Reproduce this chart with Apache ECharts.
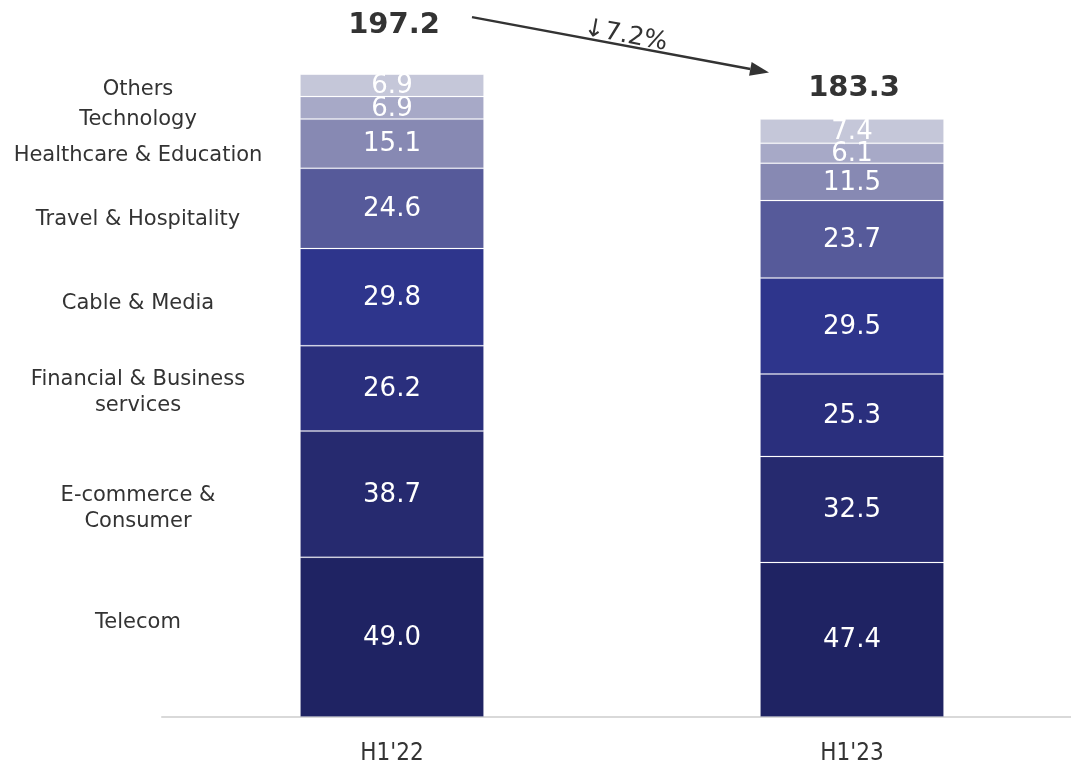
<!DOCTYPE html>
<html>
<head>
<meta charset="utf-8">
<script src="https://cdn.jsdelivr.net/npm/echarts@6/dist/echarts.min.js"></script>
<style>
  html, body { margin: 0; padding: 0; background: #fff; }
  #chart { width: 1071px; height: 767px; }
</style>
</head>
<body>
<div id="chart"></div>
<script>
// Periods on the x axis
const periods = ["H1'22", "H1'23"];

// Segment names, bottom to top of the stack
const segmentNames = [
  'Telecom',
  'E-commerce &\nConsumer',
  'Financial & Business\nservices',
  'Cable & Media',
  'Travel & Hospitality',
  'Healthcare & Education',
  'Technology',
  'Others'
];

// Segment values per period
const telecom      = [49.0, 47.4];
const ecommerce    = [38.7, 32.5];
const financial    = [26.2, 25.3];
const cableMedia   = [29.8, 29.5];
const travel       = [24.6, 23.7];
const healthcare   = [15.1, 11.5];
const technology   = [6.9, 6.1];
const others       = [6.9, 7.4];

// Period totals and change annotation
const totals = [197.2, 183.3];
const changeText = '\u21937.2%';

const segmentValues = [telecom, ecommerce, financial, cableMedia, travel, healthcare, technology, others];
const segmentColors = ['#1f2363', '#262a6f', '#2a2f7d', '#2e358c', '#565a9a', '#8789b3', '#a7a9c7', '#c5c7d9'];

// Vertical nudge (px) of each left-hand segment name from the middle of its first-bar segment
const nameNudge = [-15, 14, 4, 6, 11, 12, 12, 4];

const FONT = "'DejaVu Sans', Verdana, sans-serif";
const AXIS_FONT = "'Liberation Sans Narrow', 'DejaVu Sans Condensed', sans-serif";

const chart = echarts.init(document.getElementById('chart'), null, { renderer: 'canvas' });

const series = segmentNames.map((name, i) => ({
  name: name,
  type: 'bar',
  stack: 'total',
  barWidth: '40%',
  data: segmentValues[i],
  itemStyle: {
    color: segmentColors[i],
    borderColor: 'rgba(255,255,255,0.15)',
    borderWidth: 1
  },
  label: {
    show: true,
    position: 'inside',
    color: '#ffffff',
    fontFamily: FONT,
    fontSize: 26,
    offset: [0, 1],
    formatter: p => p.value.toFixed(1)
  },
  emphasis: { disabled: true },
  silent: true
}));

chart.setOption({
  animation: false,
  textStyle: { fontFamily: FONT },
  grid: { left: 162, width: 920, top: 65, bottom: 50, containLabel: false, outerBoundsMode: 'none' },
  xAxis: {
    type: 'category',
    data: periods,
    axisTick: { show: false },
    axisLine: { lineStyle: { color: '#d9d9d9', width: 2 } },
    axisLabel: { color: '#333333', fontFamily: AXIS_FONT, fontSize: 24, margin: 25 }
  },
  yAxis: {
    type: 'value',
    min: 0,
    max: 200,
    show: false,
    splitLine: { show: false }
  },
  series: series
});

// Annotations placed from the axis scales: segment names, totals and change arrow
function px(catIndex, value) {
  return chart.convertToPixel({ xAxisIndex: 0, yAxisIndex: 0 }, [catIndex, value]);
}

const graphics = [];
let cum = 0;
segmentNames.forEach((name, i) => {
  const v = segmentValues[i][0];
  const mid = px(0, cum + v / 2);
  cum += v;
  graphics.push({
    type: 'text',
    silent: true,
    style: {
      text: name,
      x: 138,
      y: mid[1] + nameNudge[i],
      fill: '#333333',
      font: '21px ' + FONT,
      align: 'center', verticalAlign: 'middle',
      textAlign: 'center', textVerticalAlign: 'middle',
      lineHeight: 26
    }
  });
});

// Total labels above each bar
const totalLift = [49, 31];
const totalPos = totals.map((t, i) => {
  const p = px(i, t);
  return [p[0] + 2, p[1] - totalLift[i]];
});
totals.forEach((t, i) => {
  graphics.push({
    type: 'text',
    silent: true,
    style: {
      text: t.toFixed(1),
      x: totalPos[i][0],
      y: totalPos[i][1],
      fill: '#333333',
      font: 'bold 29px ' + FONT,
      align: 'center', verticalAlign: 'middle',
      textAlign: 'center', textVerticalAlign: 'middle'
    }
  });
});

// Change arrow between the two totals
const a0 = [totalPos[0][0] + 78, totalPos[0][1] - 8];
const a1 = [totalPos[1][0] - 85, totalPos[1][1] - 16];
const ang = Math.atan2(a1[1] - a0[1], a1[0] - a0[0]);
const headLen = 19, headHalf = 7;
const base = [a1[0] - headLen * Math.cos(ang), a1[1] - headLen * Math.sin(ang)];
graphics.push({
  type: 'line',
  silent: true,
  shape: { x1: a0[0], y1: a0[1], x2: base[0], y2: base[1] },
  style: { stroke: '#333333', lineWidth: 2.5 }
});
graphics.push({
  type: 'polygon',
  silent: true,
  shape: {
    points: [
      a1,
      [base[0] + headHalf * Math.sin(ang), base[1] - headHalf * Math.cos(ang)],
      [base[0] - headHalf * Math.sin(ang), base[1] + headHalf * Math.cos(ang)]
    ]
  },
  style: { fill: '#333333' }
});
const mx = (a0[0] + a1[0]) / 2, my = (a0[1] + a1[1]) / 2;
graphics.push({
  type: 'text',
  silent: true,
  x: mx + 5,
  y: my - 9,
  rotation: -ang,
  style: {
    text: changeText,
    x: 0, y: 0,
    fill: '#333333',
    font: '25px ' + FONT,
    align: 'center', verticalAlign: 'middle',
    textAlign: 'center', textVerticalAlign: 'middle'
  }
});

chart.setOption({ graphic: { elements: graphics } });
</script>
</body>
</html>
